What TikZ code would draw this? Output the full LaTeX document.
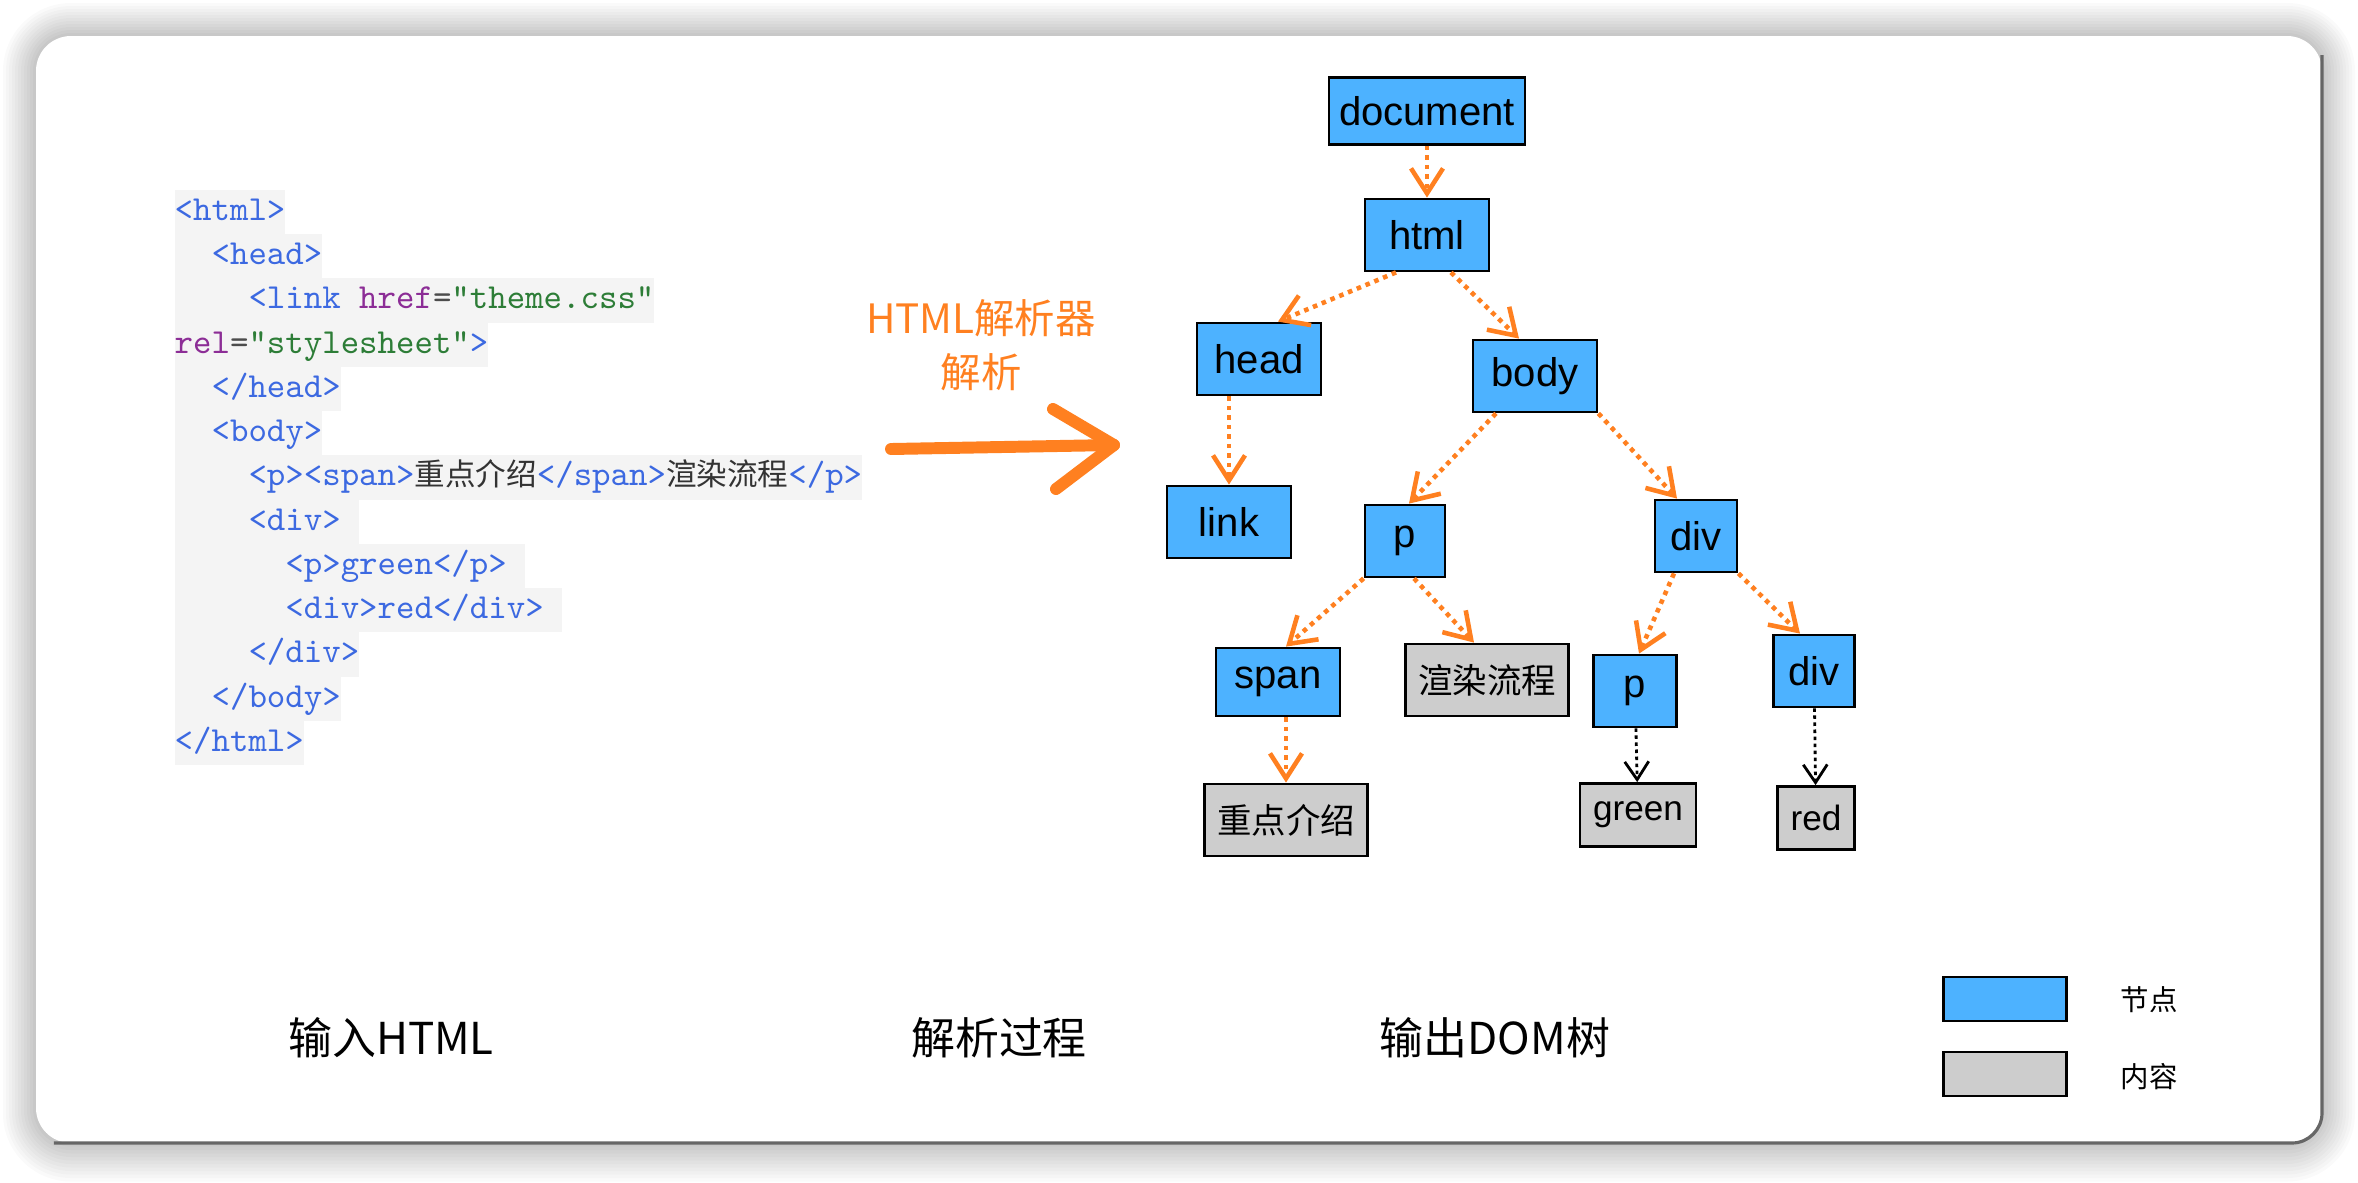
\documentclass[tikz,border=0pt]{standalone}
\usepackage{fontspec}
\setmainfont{Liberation Sans}
\setmonofont{lmmono10-regular.otf}
\newfontfamily\cjk{Noto Sans CJK SC}
\usetikzlibrary{arrows.meta}
\definecolor{nodeblue}{RGB}{77,178,255}
\definecolor{contentgray}{RGB}{205,205,205}
\definecolor{parseorange}{RGB}{255,128,32}
\definecolor{codebg}{RGB}{244,244,244}
\definecolor{tagblue}{RGB}{60,105,225}
\definecolor{attrpurple}{RGB}{140,45,150}
\definecolor{valgreen}{RGB}{45,125,55}
\newcommand\ctag[1]{\textcolor{tagblue}{#1}}
\newcommand\cattr[1]{\textcolor{attrpurple}{#1}}
\newcommand\cval[1]{\textcolor{valgreen}{#1}}
\newcommand\ctext[1]{{\cjk\fontsize{8.7}{10}\selectfont\textcolor{black!80}{#1}}}
\begin{document}
\begin{tikzpicture}
\useasboundingbox (0,0) rectangle (23.58,11.82);
\fill[white] (0,0) rectangle (23.58,11.82);
% card with shadow
\foreach \i [evaluate=\i as \r using 0.35+\i*0.03] in {1,...,11}
  \fill[black, opacity=0.02, rounded corners=\r cm] (0.36-\i*0.03,0.39-\i*0.035) rectangle (23.22+\i*0.03,11.46+\i*0.03);
\fill[white, rounded corners=0.35cm] (0.36,0.39) rectangle (23.22,11.46);
\draw[black!60, line width=0.9pt, rounded corners=0.3cm] (0.54,0.39) -- (23.22,0.39) -- (23.22,11.27);
\tikzstyle{codeline} = [anchor=west, fill=codebg, inner sep=0, minimum height=0.4425cm, text height=7pt, text depth=2.2pt, text=tagblue, font=\ttfamily\fontsize{10}{12}\selectfont]
\node[codeline] (c1) at (1.74,9.700) {<html>};
\node[codeline] (c2) at (1.74,9.258) {\phantom{xx}<head>};
\node[codeline] (c3) at (1.74,8.815) {\phantom{xxxx}<link \cattr{href}\textcolor{black!70}{=}\cval{"theme.css"}};
\node[codeline] (c4) at (1.74,8.373) {\cattr{rel}\textcolor{black!70}{=}\cval{"stylesheet"}>};
\node[codeline] (c5) at (1.74,7.930) {\phantom{xx}</head>};
\node[codeline] (c6) at (1.74,7.488) {\phantom{xx}<body>};
\node[codeline] (c7) at (1.74,7.045) {\phantom{xxxx}<p><span>\ctext{重点介绍}</span>\ctext{渲染流程}</p>};
\node[codeline] (c8) at (1.74,6.603) {\phantom{xxxx}<div>\phantom{x}};
\node[codeline] (c9) at (1.74,6.160) {\phantom{xxxxxx}<p>green</p>\phantom{x}};
\node[codeline] (c10) at (1.74,5.718) {\phantom{xxxxxx}<div>red</div>\phantom{x}};
\node[codeline] (c11) at (1.74,5.275) {\phantom{xxxx}</div>};
\node[codeline] (c12) at (1.74,4.833) {\phantom{xx}</body>};
\node[codeline] (c13) at (1.74,4.390) {</html>};
% parser
\node[text=parseorange, font=\cjk\fontsize{11.5}{13}\selectfont] (parser) at (9.81,8.64) {HTML解析器};
\node[text=parseorange, font=\cjk\fontsize{11.5}{13}\selectfont] (parsing) at (9.81,8.10) {解析};
\coordinate (arrowtail) at (8.91,7.33);
\coordinate (arrowtip) at (11.14,7.37);
\tikzstyle{bigarrow} = [parseorange, line width=3.4pt, line cap=round, line join=round]
\draw[bigarrow] (arrowtail) -- (arrowtip);
\draw[bigarrow] (arrowtip) ++(-0.61,0.36) -- (arrowtip) -- ++(-0.58,-0.44);
% DOM tree
\tikzstyle{domnode} = [draw=black, line width=0.8pt, fill=nodeblue, minimum width=1.24cm, minimum height=0.72cm, inner sep=0.1cm, font=\fontsize{11.4}{13}\selectfont]
\tikzstyle{content} = [draw=black, line width=0.8pt, fill=contentgray, minimum height=0.63cm, inner xsep=0.13cm, font=\fontsize{10}{12}\selectfont]
\node[domnode, minimum height=0.67cm] (document) at (14.27,10.71) {document};
\node[domnode] (html) at (14.27,9.47) {html};
\node[domnode] (head) at (12.59,8.23) {head};
\node[domnode] (body) at (15.35,8.06) {body};
\node[domnode] (link) at (12.29,6.60) {link};
\node[domnode, minimum width=0.80cm] (p) at (14.05,6.41) {p};
\node[domnode, minimum width=0.82cm] (div) at (16.96,6.46) {div};
\node[domnode, minimum height=0.68cm] (span) at (12.78,5.00) {span};
\node[content, minimum height=0.72cm, font=\cjk\fontsize{9.8}{12}\selectfont] (xr) at (14.87,5.02) {渲染流程};
\node[domnode, minimum width=0.83cm] (ptwo) at (16.35,4.91) {p};
\node[domnode, minimum width=0.81cm] (divtwo) at (18.14,5.11) {div};
\node[content, minimum height=0.72cm, font=\cjk\fontsize{9.8}{12}\selectfont] (zd) at (12.86,3.62) {重点介绍};
\node[content] (green) at (16.38,3.67) {green};
\node[content] (red) at (18.16,3.64) {red};
\tikzstyle{parse} = [parseorange, line width=1.3pt, dash pattern=on 1.3pt off 1.4pt, -{Straight Barb[length=0.25cm, width=0.32cm, line width=1.3pt]}]
\tikzstyle{leaf} = [black, line width=0.8pt, dash pattern=on 1pt off 1pt, -{Straight Barb[length=0.18cm, width=0.24cm, line width=0.8pt]}]
\draw[parse] (document) -- (html);
\draw[parse] ([xshift=-0.31cm]html.south) -- ([xshift=0.19cm]head.north);
\draw[parse] ([xshift=0.24cm]html.south) -- ([xshift=-0.16cm]body.north);
\draw[parse] (link.north |- head.south) -- (link.north);
\draw[parse] ([xshift=-0.39cm]body.south) -- ([xshift=0.04cm]p.north);
\draw[parse] (body.south east) -- ([xshift=-0.19cm]div.north);
\draw[parse] (p.south west) -- ([xshift=0.08cm]span.north);
\draw[parse] ([xshift=0.09cm]p.south) -- ([xshift=-0.13cm]xr.north);
\draw[parse] ([xshift=-0.22cm]div.south) -- ([xshift=0.04cm]ptwo.north);
\draw[parse] (div.south east) -- ([xshift=-0.14cm]divtwo.north);
\draw[parse] (zd.north |- span.south) -- (zd.north);
\draw[leaf] (ptwo) -- (green);
\draw[leaf] (divtwo) -- (red);
% captions and legend
\tikzstyle{caption} = [font=\cjk\fontsize{12.5}{14}\selectfont]
\node[caption] (input) at (3.91,1.44) {输入HTML};
\node[caption] (process) at (9.99,1.44) {解析过程};
\node[caption] (output) at (14.95,1.44) {输出DOM树};
\node[domnode, minimum width=1.23cm, minimum height=0.44cm, inner sep=0] (keynode) at (20.05,1.83) {};
\node[content, minimum width=1.23cm, minimum height=0.44cm, inner sep=0] (keycontent) at (20.05,1.08) {};
\node[font=\cjk\fontsize{8.1}{10}\selectfont] (keynodetext) at (21.49,1.82) {节点};
\node[font=\cjk\fontsize{8.1}{10}\selectfont] (keycontenttext) at (21.49,1.05) {内容};
\end{tikzpicture}
\end{document}
